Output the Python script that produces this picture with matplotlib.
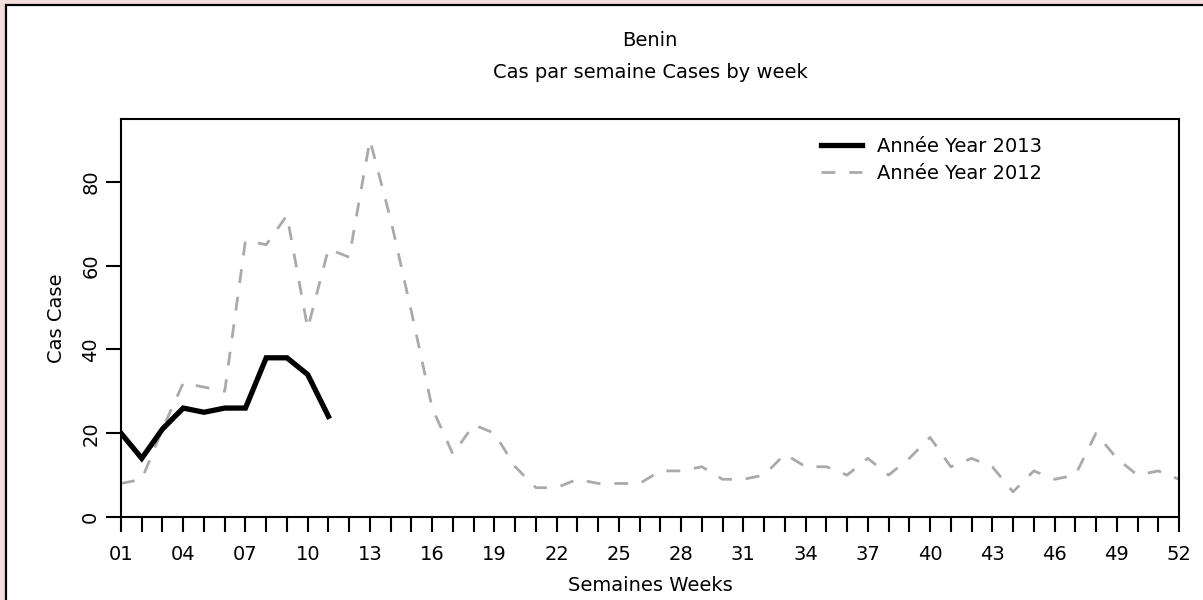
import matplotlib
matplotlib.use("Agg")
import matplotlib.pyplot as plt
from matplotlib.patches import Rectangle

plt.rcParams["font.family"] = ["DejaVu Sans"]

WEEKS = list(range(1, 53))
CASES_2013 = [20, 14, 21, 26, 25, 26, 26, 38, 38, 34, 24]
CASES_2012 = [8, 9, 21, 32, 31, 30, 66, 65, 72, 45,
              64, 62, 90, 71, 49, 26, 15, 22, 20, 12,
              7, 7, 9, 8, 8, 8, 11, 11, 12, 9,
              9, 10, 15, 12, 12, 10, 14, 10, 14, 19,
              12, 14, 12, 6, 11, 9, 10, 20, 14, 10,
              11, 9]
YTICKS = [0, 20, 40, 60, 80]

PINK, GREY = "#f2dedc", "#aaaaaa"
FS = 14

fig = plt.figure(figsize=(12.03, 6.0), dpi=100)
fig.patch.set_facecolor(PINK)
# white panel with black border
fig.patches.append(Rectangle((6 / 1203, -0.1), 1.2, 1.1 - 5 / 600,
                             transform=fig.transFigure, facecolor="white",
                             edgecolor="black", linewidth=1.6, zorder=-1))

ax = fig.add_axes([121 / 1203, 83 / 600, 1058 / 1203, 398 / 600])
ax.set_facecolor("white")
ax.plot(WEEKS, CASES_2012, color=GREY, lw=2.0, dashes=(5, 5),
        label="Année Year 2012", zorder=2)
ax.plot(WEEKS[:len(CASES_2013)], CASES_2013, color="black", lw=3.8,
        solid_joinstyle="miter", label="Année Year 2013", zorder=3)

ax.set_xlim(1, 52)
ax.set_ylim(0, 95)
ax.set_xticks(WEEKS)
ax.set_xticklabels([f"{w:02d}" if (w - 1) % 3 == 0 else "" for w in WEEKS], fontsize=FS)
ax.set_yticks(YTICKS)
ax.set_yticklabels([str(v) for v in YTICKS], fontsize=FS, rotation=90, va="center")
ax.tick_params(axis="x", length=11, width=1.5, pad=9)
ax.tick_params(axis="y", length=11, width=1.5, pad=4)
for s in ax.spines.values():
    s.set_linewidth(1.5)

ax.set_xlabel("Semaines Weeks", fontsize=FS, labelpad=9)
ax.set_ylabel("Cas Case", fontsize=FS, labelpad=11)
fig.text(650 / 1203, 1 - 41 / 600, "Benin", ha="center", va="center", fontsize=FS)
fig.text(650 / 1203, 1 - 72 / 600, "Cas par semaine Cases by week",
         ha="center", va="center", fontsize=FS)

h, l = ax.get_legend_handles_labels()
ax.legend(h[::-1], l[::-1], loc="upper left", bbox_to_anchor=(0.662, 0.955),
          frameon=False, fontsize=FS, handlelength=2.1, handletextpad=0.75,
          labelspacing=0.42, borderpad=0, borderaxespad=0)

fig.savefig("out.png", dpi=100, facecolor=PINK)
